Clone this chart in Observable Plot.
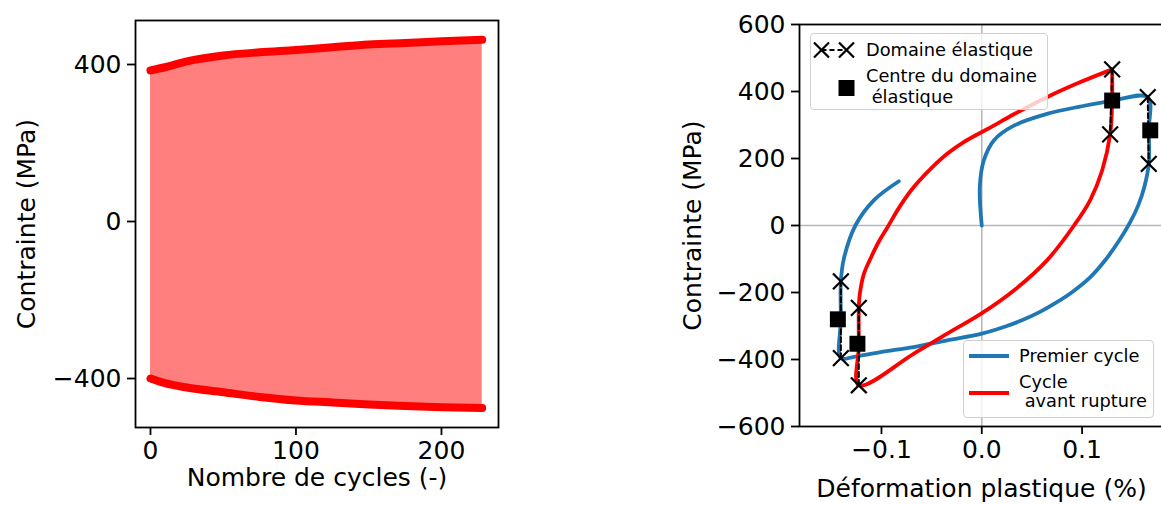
<!DOCTYPE html>
<html><head><meta charset="utf-8">
<script src="https://cdn.jsdelivr.net/npm/d3@7"></script>
<script src="https://cdn.jsdelivr.net/npm/@observablehq/plot@0.6"></script>
<style>
html,body{margin:0;padding:0;background:#fff;overflow:hidden;}
#wrap{position:relative;width:1161px;height:505px;overflow:hidden;font-family:"DejaVu Sans",sans-serif;}
#left{position:absolute;left:0;top:0;width:520px;}
#right{position:absolute;left:660px;top:0;width:510px;}
#left svg,#right svg{max-width:none !important;}
.legend{position:absolute;background:rgba(255,255,255,0.8);border:1.3px solid #d0d0d0;border-radius:4px;font-size:17.8px;color:#000;box-sizing:border-box;}
.legend .t{position:absolute;line-height:20px;white-space:pre;}
.legend svg{position:absolute;left:0;top:0;overflow:visible;}
</style></head><body>
<div id="wrap">
  <div id="left"></div>
  <div id="right"></div>
  <div class="legend" style="left:810px;top:33px;width:238px;height:77px;">
    <svg width="238" height="77">
      <line x1="10.5" y1="16" x2="35.5" y2="16" stroke="black" stroke-width="2" stroke-dasharray="5,3"/>
      <path d="M3,8.5L18,23.5M18,8.5L3,23.5M28,8.5L43,23.5M43,8.5L28,23.5" stroke="black" stroke-width="2.2" fill="none"/>
      <rect x="27.5" y="46" width="16" height="16" fill="black"/>
    </svg>
    <div class="t" style="left:55px;top:6px;">Domaine élastique</div>
    <div class="t" style="left:55px;top:32px;">Centre du domaine</div>
    <div class="t" style="left:55px;top:53px;"> élastique</div>
  </div>
  <div class="legend" style="left:963px;top:340px;width:191px;height:78px;">
    <svg width="191" height="78">
      <line x1="5" y1="15" x2="45" y2="15" stroke="#1f77b4" stroke-width="4"/>
      <line x1="5" y1="52" x2="45" y2="52" stroke="#ff0000" stroke-width="4"/>
    </svg>
    <div class="t" style="left:55px;top:5px;">Premier cycle</div>
    <div class="t" style="left:55px;top:31px;">Cycle</div>
    <div class="t" style="left:55px;top:50px;"> avant rupture</div>
  </div>
</div>
<script>
// ---------- Left panel data ----------
const cycles      = [0, 10, 25, 50, 75, 100, 125, 150, 175, 200, 228];
const stressMax   = [385, 393, 408, 423, 431, 437, 444, 451, 455, 459, 463];
const stressMin   = [-400, -412, -423, -435, -447, -456, -461, -466, -470, -473, -475];
const leftXTicks  = [0, 100, 200];
const leftYTicks  = [-400, 0, 400];

// ---------- Right panel data ----------
const firstX = [0, -0.002, 0.002, 0.012, 0.032, 0.065, 0.098, 0.131, 0.1655, 0.1665, 0.1665, 0.162, 0.156, 0.148, 0.137, 0.124, 0.108, 0.09, 0.072, 0.0585, 0.04, 0.025, 0, -0.0345, -0.068, -0.101, -0.1275, -0.1405, -0.1405, -0.1405, -0.1375, -0.126, -0.1077, -0.0827];
const firstY = [0, 114, 194, 254, 298, 333, 355, 373, 383, 284, 184, 114, 60, 10, -45, -100, -155, -199, -234, -257, -283, -300, -323, -343, -363, -378, -392, -396, -280, -167, -99, 0, 75, 132];
const lastX = [0.130, 0.0984, 0.065, 0.032, 0.0087, -0.018, -0.0345, -0.051, -0.068, -0.081, -0.094, -0.103, -0.111, -0.1176, -0.1216, -0.1226, -0.1226, -0.1226, -0.068, -0.0345, -0.001, 0.032, 0.065, 0.092, 0.108, 0.120, 0.128, 0.130, 0.130];
const lastY = [466, 428, 383, 332, 293, 249, 214, 169, 114, 60, -5, -50, -99, -145, -204, -246, -360, -477, -383, -323, -264, -194, -104, 0, 75, 164, 272, 373, 466];
const elasticX     = [0.1655, 0.1665, -0.1405, -0.1405, 0.130, 0.128, -0.1226, -0.1226];
const elasticY     = [383, 184, -396, -167, 466, 272, -246, -477];
const elasticGroup = ["b+", "b+", "b-", "b-", "r+", "r+", "r-", "r-"];
const centreX = [0.168, -0.1435, 0.130, -0.124];
const centreY = [284, -280, 373, -353];
const rightXTicks = [-0.1, 0, 0.1];
const rightYTicks = [-600, -400, -200, 0, 200, 400, 600];

const leftData = cycles.map((c, i) => ({c, hi: stressMax[i], lo: stressMin[i]}));
const firstData = firstX.map((x, i) => ({x, y: firstY[i]}));
const lastData = lastX.map((x, i) => ({x, y: lastY[i]}));
const elasticData = elasticX.map((x, i) => ({x, y: elasticY[i], g: elasticGroup[i]}));
const centreData = centreX.map((x, i) => ({x, y: centreY[i]}));

const fmtInt = d3.format("d");
const fmt1 = d3.format(".1f");
const FS = 25;
const style = {fontFamily: "DejaVu Sans", fontSize: FS + "px", color: "black", background: "transparent", maxWidth: "none"};

const left = Plot.plot({
  width: 520, height: 505,
  marginLeft: 135, marginRight: 22, marginTop: 20, marginBottom: 78,
  x: {domain: [-10.3, 239.2]},
  y: {domain: [-524.8, 512.1]},
  style,
  marks: [
    Plot.areaY(leftData, {x: "c", y1: "lo", y2: "hi", fill: "#ff7f7f", curve: "monotone-x"}),
    Plot.line(leftData, {x: "c", y: "hi", stroke: "#ff0000", strokeWidth: 8, strokeLinecap: "round", curve: "monotone-x"}),
    Plot.line(leftData, {x: "c", y: "lo", stroke: "#ff0000", strokeWidth: 8, strokeLinecap: "round", curve: "monotone-x"}),
    Plot.frame({stroke: "black", strokeWidth: 1.8}),
    Plot.axisX({ticks: leftXTicks, tickSize: 8, tickPadding: 6, label: null, strokeWidth: 1.8, fontSize: FS}),
    Plot.axisY({ticks: leftYTicks, tickSize: 8, tickPadding: 6, label: null, tickFormat: fmtInt, strokeWidth: 1.8, fontSize: FS}),
    Plot.text(["Nombre de cycles (-)"], {text: d => d, frameAnchor: "bottom", lineAnchor: "middle", textAnchor: "middle", dy: 50, fontSize: FS}),
    Plot.text(["Contrainte (MPa)"], {text: d => d, frameAnchor: "left", lineAnchor: "middle", textAnchor: "middle", dx: -109, rotate: -90, fontSize: FS})
  ]
});
document.getElementById("left").appendChild(left);

const right = Plot.plot({
  width: 510, height: 505,
  marginLeft: 139, marginRight: 7, marginTop: 24, marginBottom: 79,
  x: {domain: [-0.18175, 0.1812]},
  y: {domain: [-600, 600]},
  style,
  marks: [
    Plot.ruleY([0], {stroke: "#b8b8b8", strokeWidth: 1.6}),
    Plot.ruleX([0], {stroke: "#b8b8b8", strokeWidth: 1.6}),
    Plot.line(firstData, {x: "x", y: "y", stroke: "#1f77b4", strokeWidth: 3.8, curve: "catmull-rom"}),
    Plot.line(lastData, {x: "x", y: "y", stroke: "#ff0000", strokeWidth: 3.8, curve: "catmull-rom"}),
    Plot.line(elasticData, {x: "x", y: "y", z: "g", stroke: "black", strokeWidth: 2, strokeDasharray: "5,3"}),
    Plot.dot(elasticData, {x: "x", y: "y", symbol: "times", r: 7.2, stroke: "black", strokeWidth: 2.2}),
    Plot.dot(centreData, {x: "x", y: "y", symbol: "square", r: 9, fill: "black", stroke: "none"}),
    Plot.frame({stroke: "black", strokeWidth: 1.8}),
    Plot.axisX({ticks: rightXTicks, tickSize: 8, tickPadding: 6, label: null, tickFormat: fmt1, strokeWidth: 1.8, fontSize: FS}),
    Plot.axisY({ticks: rightYTicks, tickSize: 8, tickPadding: 6, label: null, tickFormat: fmtInt, strokeWidth: 1.8, fontSize: FS}),
    Plot.text(["Déformation plastique (%)"], {text: d => d, frameAnchor: "bottom", lineAnchor: "middle", textAnchor: "middle", dy: 62, fontSize: FS}),
    Plot.text(["Contrainte (MPa)"], {text: d => d, frameAnchor: "left", lineAnchor: "middle", textAnchor: "middle", dx: -107, rotate: -90, fontSize: FS})
  ]
});
document.getElementById("right").appendChild(right);
</script>
</body></html>
